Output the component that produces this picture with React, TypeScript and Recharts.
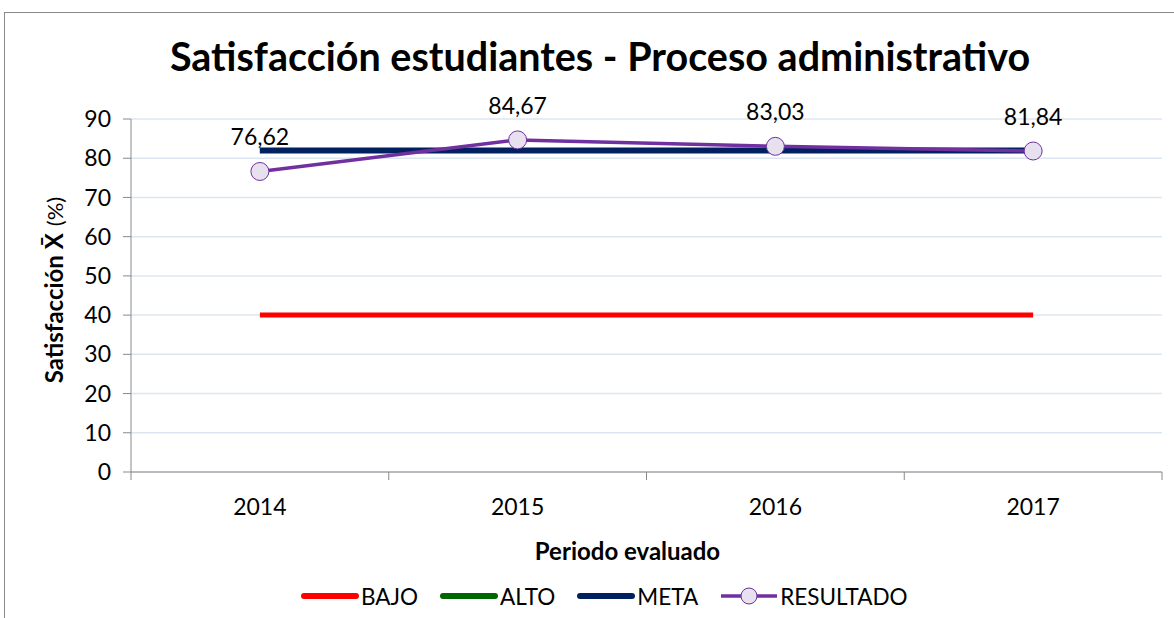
import { LineChart, Line, XAxis, YAxis, CartesianGrid, Legend, LabelList } from "recharts";

const years = ["2014", "2015", "2016", "2017"];
const bajo = [40, 40, 40, 40];
const alto = [82, 82, 82, 82];
const meta = [82, 82, 82, 82];
const resultado = [76.62, 84.67, 83.03, 81.84];
const yTicks = [0, 10, 20, 30, 40, 50, 60, 70, 80, 90];

const data = years.map((year, i) => ({
  year,
  BAJO: bajo[i],
  ALTO: alto[i],
  META: meta[i],
  RESULTADO: resultado[i],
}));

const FONT = "Lato, 'Noto Sans', sans-serif";
const AXIS_GRAY = "#898989";
const W = 1174;
const H = 618;
const PLOT_LEFT = 131;
const PLOT_RIGHT = 1162;
const HALF_BAND = (PLOT_RIGHT - PLOT_LEFT) / years.length / 2;

const legendItems = [
  { name: "BAJO", color: "#ff0000", marker: false },
  { name: "ALTO", color: "#006600", marker: false },
  { name: "META", color: "#002060", marker: false },
  { name: "RESULTADO", color: "#7030a0", marker: true },
];

function XTick(props: any) {
  const { x, y, payload, index } = props;
  const top = y - 8;
  return (
    <g>
      <line x1={x - HALF_BAND} x2={x - HALF_BAND} y1={top} y2={top + 8} stroke={AXIS_GRAY} />
      {index === years.length - 1 && (
        <line x1={x + HALF_BAND} x2={x + HALF_BAND} y1={top} y2={top + 8} stroke={AXIS_GRAY} />
      )}
      <text x={x} y={top + 43} textAnchor="middle" fontSize={23} fill="#000" fontFamily={FONT}>
        {payload.value}
      </text>
    </g>
  );
}

function YLabel() {
  return (
    <text
      transform="translate(63, 290) rotate(-90)"
      textAnchor="middle"
      fontFamily={FONT}
      fill="#000"
    >
      <tspan fontSize={24} fontWeight="bold">Satisfacción X̄</tspan>
      <tspan fontSize={22} dx={7}>(%)</tspan>
    </text>
  );
}

function LegendContent() {
  return (
    <div
      style={{
        display: "flex",
        justifyContent: "flex-start",
        alignItems: "center",
        height: 44,
        paddingLeft: 300,
        fontFamily: FONT,
        fontSize: 22.5,
        color: "#000",
      }}
    >
      {legendItems.map((it) => (
        <div key={it.name} style={{ display: "flex", alignItems: "center", marginRight: 21 }}>
          <svg width={60} height={20}>
            <line
              x1={it.marker ? 2 : 4}
              x2={it.marker ? 58 : 56}
              y1={10}
              y2={10}
              stroke={it.color}
              strokeWidth={it.marker ? 3.5 : 6}
              strokeLinecap={it.marker ? "butt" : "round"}
            />
            {it.marker && <circle cx={30} cy={10} r={8} fill="#e6e0ef" stroke="#7030a0" strokeWidth={1} />}
          </svg>
          <span style={{ marginLeft: 1 }}>{it.name}</span>
        </div>
      ))}
    </div>
  );
}

export default function App() {
  return (
    <div style={{ position: "fixed", left: 0, top: 0, width: W, height: H, background: "#fff", overflow: "hidden" }}>
      <div
        style={{
          position: "absolute",
          left: 4,
          top: 12,
          width: W + 20,
          height: H + 20,
          border: `1px solid ${AXIS_GRAY}`,
          boxSizing: "border-box",
        }}
      />
      <div
        style={{
          position: "absolute",
          left: 0,
          top: 32,
          width: 1200,
          textAlign: "center",
          fontFamily: FONT,
          fontWeight: "bold",
          fontSize: 39.5,
          lineHeight: 1.2,
          color: "#000",
        }}
      >
        Satisfacción estudiantes - Proceso administrativo
      </div>
      <div style={{ position: "absolute", left: 0, top: 0 }}>
        <LineChart width={W} height={H} data={data} margin={{ top: 119, right: W - PLOT_RIGHT, bottom: 0, left: 0 }}>
          <CartesianGrid vertical={false} stroke="#dce6f2" strokeWidth={1.5} />
          <XAxis
            dataKey="year"
            height={102}
            padding={{ left: HALF_BAND, right: HALF_BAND }}
            tick={<XTick />}
            tickLine={false}
            axisLine={{ stroke: AXIS_GRAY }}
            label={{ value: "Periodo evaluado", position: "insideBottom", offset: 14, fontSize: 24, fontWeight: "bold", fill: "#000", fontFamily: FONT, dx: -19 }}
          />
          <YAxis
            width={PLOT_LEFT}
            domain={[0, 90]}
            ticks={yTicks}
            interval={0}
            tickSize={8}
            tickMargin={12}
            tickLine={{ stroke: AXIS_GRAY }}
            axisLine={{ stroke: AXIS_GRAY }}
            tick={{ fontSize: 23, fill: "#000", fontFamily: FONT }}
            label={<YLabel />}
          />
          <Legend verticalAlign="bottom" height={44} content={<LegendContent />} />
          <Line dataKey="BAJO" stroke="#ff0000" strokeWidth={5} dot={false} isAnimationActive={false} />
          <Line dataKey="ALTO" stroke="#006600" strokeWidth={5} dot={false} isAnimationActive={false} />
          <Line dataKey="META" stroke="#002060" strokeWidth={6} dot={false} isAnimationActive={false} />
          <Line
            dataKey="RESULTADO"
            stroke="#7030a0"
            strokeWidth={3.5}
            dot={{ r: 9, fill: "#e6e0ef", stroke: "#7030a0", strokeWidth: 1 }}
            isAnimationActive={false}
          >
            <LabelList
              dataKey="RESULTADO"
              position="top"
              offset={26}
              fontSize={23}
              fill="#000"
              fontFamily={FONT}
              formatter={(v: any) => String(v).replace(".", ",")}
            />
          </Line>
        </LineChart>
      </div>
    </div>
  );
}
